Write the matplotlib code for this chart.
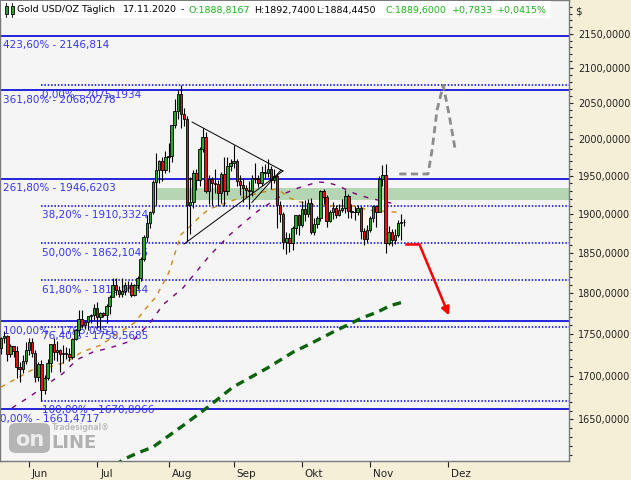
import matplotlib
matplotlib.use("Agg")
import matplotlib.pyplot as plt
from matplotlib.patches import Rectangle, FancyBboxPatch
from matplotlib.ticker import FixedLocator, NullFormatter
import matplotlib.transforms as mtransforms
import numpy as np
import pandas as pd

W, H = 631, 480

# Gold USD/OZ daily candles, 19.05.2020 - 17.11.2020
opens = [1733, 1745, 1747, 1726, 1735, 1729, 1710, 1708, 1718,
         1730, 1740, 1727, 1699, 1714, 1684, 1698, 1715, 1737, 1728, 1730, 1726, 1727, 1726, 1722,
         1743, 1754, 1768, 1761, 1764, 1771, 1772,
         1781, 1770, 1775, 1773, 1784, 1795, 1809, 1803, 1798, 1802, 1809, 1810, 1797, 1810, 1818,
         1842, 1870, 1888, 1902, 1942, 1958, 1970, 1958,
         1975, 1977, 2019, 2039, 2063, 2035, 2028, 1911, 1915, 1954, 1944, 1986, 2003, 1930, 1946,
         1940, 1939, 1928, 1953, 1930, 1964,
         1968, 1970, 1943, 1938, 1934, 1931, 1930, 1947, 1946, 1941, 1956, 1954, 1960, 1944, 1950,
         1912, 1900, 1864, 1869, 1862, 1881, 1898,
         1886, 1906, 1900, 1914, 1877, 1887, 1894, 1930, 1922, 1891, 1902, 1908, 1899, 1905, 1908,
         1924, 1904, 1902, 1903, 1908, 1878, 1867,
         1879, 1894, 1910, 1903, 1946, 1951, 1862, 1877, 1866, 1873, 1888, 1888.8167]
highs = [1746, 1753, 1748, 1737, 1735, 1735, 1716, 1725, 1740,
         1745, 1745, 1730, 1716, 1719, 1701, 1720, 1738, 1745, 1741, 1732, 1736, 1734, 1733, 1745,
         1756, 1779, 1779, 1767, 1771, 1774, 1786,
         1789, 1776, 1776, 1786, 1797, 1818, 1818, 1808, 1818, 1813, 1815, 1813, 1811, 1821, 1844,
         1872, 1898, 1904, 1945, 1981, 1971, 1975, 1984,
         1994, 2020, 2056, 2069, 2075, 2043, 2032, 1949, 1958, 1959, 1989, 2015, 2010, 1951, 1949,
         1960, 1944, 1955, 1976, 1976, 1973,
         1992, 1973, 1952, 1946, 1938, 1943, 1952, 1967, 1951, 1963, 1966, 1973, 1963, 1960, 1953,
         1917, 1903, 1876, 1875, 1884, 1898, 1900,
         1917, 1918, 1920, 1921, 1894, 1897, 1932, 1933, 1925, 1905, 1915, 1912, 1913, 1920, 1931,
         1926, 1913, 1910, 1911, 1910, 1882, 1886,
         1897, 1911, 1912, 1950, 1965, 1966, 1884, 1880, 1880, 1892, 1900, 1892.74]
lows = [1726, 1739, 1717, 1722, 1722, 1698, 1693, 1703, 1714,
        1724, 1722, 1693, 1694, 1671, 1679, 1695, 1705, 1719, 1717, 1704, 1715, 1720, 1718, 1720,
        1742, 1747, 1757, 1756, 1754, 1763, 1767,
        1757, 1756, 1770, 1763, 1774, 1794, 1797, 1795, 1795, 1797, 1801, 1795, 1796, 1805, 1815,
        1840, 1864, 1882, 1900, 1912, 1940, 1943, 1954,
        1955, 1969, 2015, 2028, 2015, 2018, 1863, 1874, 1907, 1932, 1936, 1983, 1927, 1913, 1911,
        1928, 1910, 1914, 1910, 1925, 1957,
        1961, 1936, 1925, 1916, 1922, 1906, 1924, 1940, 1935, 1937, 1947, 1948, 1933, 1940, 1882,
        1890, 1855, 1848, 1851, 1853, 1874, 1873,
        1883, 1891, 1896, 1874, 1873, 1882, 1891, 1913, 1883, 1889, 1893, 1894, 1897, 1902, 1901,
        1895, 1895, 1892, 1899, 1867, 1860, 1864,
        1877, 1889, 1883, 1903, 1936, 1850, 1860, 1858, 1861, 1870, 1866, 1884.445]
closes = [1745, 1747, 1726, 1735, 1729, 1710, 1708, 1718, 1730,
          1740, 1727, 1699, 1714, 1684, 1698, 1715, 1737, 1728, 1730, 1726, 1727, 1726, 1722, 1743,
          1754, 1768, 1761, 1764, 1771, 1772, 1781,
          1770, 1775, 1773, 1784, 1795, 1809, 1803, 1798, 1802, 1809, 1810, 1797, 1810, 1818, 1842,
          1870, 1888, 1902, 1942, 1958, 1970, 1958, 1975,
          1977, 2019, 2039, 2063, 2035, 2028, 1911, 1915, 1954, 1944, 1986, 2003, 1930, 1946, 1940,
          1939, 1928, 1953, 1930, 1964, 1968,
          1970, 1943, 1938, 1934, 1931, 1930, 1947, 1946, 1941, 1956, 1954, 1960, 1944, 1950, 1912,
          1900, 1864, 1869, 1862, 1881, 1898, 1886,
          1906, 1900, 1914, 1877, 1887, 1894, 1930, 1922, 1891, 1902, 1908, 1899, 1905, 1908, 1924,
          1904, 1902, 1903, 1908, 1878, 1867, 1879,
          1894, 1910, 1903, 1946, 1951, 1862, 1877, 1866, 1873, 1888, 1889, 1889.6]

dates = pd.bdate_range("2020-05-19", "2020-11-17")
month_names = {6: "Jun", 7: "Jul", 8: "Aug", 9: "Sep", 10: "Okt", 11: "Nov", 12: "Dez"}

# moving averages (bar, price)
ma_orange_x = [0, 4, 10, 15, 21, 26, 32, 36, 43, 47, 50, 54, 58, 61, 64, 67, 71, 75, 79, 85,
               89, 93, 96, 101, 108, 115, 118, 128]
ma_orange_y = [1687, 1695, 1707, 1710, 1716, 1728, 1736, 1746, 1763, 1782, 1795, 1824, 1873,
               1884, 1896, 1906, 1912, 1918, 1923, 1929, 1933, 1921, 1916, 1912, 1910, 1910,
               1905, 1902]
ma_purple_x = [3.5, 9.3, 13.5, 20, 24.5, 29.6, 35.1, 42.6, 48, 52.2, 58.7, 67.4, 70.6, 73.8,
               79.6, 82.9, 91.6, 95.8, 99, 102.2, 105.5, 108.7, 112.2, 115.1, 118.4, 128]
ma_purple_y = [1663, 1676, 1687, 1703, 1719, 1728, 1733, 1742, 1763, 1785, 1806, 1847, 1860,
               1873, 1893, 1904, 1927, 1934, 1938, 1942, 1941, 1937, 1930, 1925, 1921, 1912]
ma_green_x = [36.7, 39.3, 43.8, 49, 58.7, 66.7, 74.8, 85.8, 94.2, 98.7, 101.9, 107.1, 112.6,
              116.4, 121.3, 125.5, 129.3]
ma_green_y = [1598, 1605, 1612, 1619, 1643, 1664, 1687, 1709, 1728, 1736, 1742, 1752, 1762,
              1769, 1776, 1784, 1788]

# fibonacci extension (solid) and retracement (dotted)
ext_prices = [2146.814, 2068.0278, 1946.6203, 1765.0951, 1661.4717]
ext_labels = ["423,60% - 2146,814", "361,80% - 2068,0278", "261,80% - 1946,6203",
              "100,00% - 1765,0951", "0,00% - 1661,4717"]
ret_prices = [2075.1934, 1910.3324, 1862.1046, 1815.0944, 1758.5685, 1670.8966]
ret_labels = ["0,00% - 2075,1934", "38,20% - 1910,3324", "50,00% - 1862,1046",
              "61,80% - 1815,0944", "76,40% - 1758,5685", "100,00% - 1670,8966"]
ret_start = 13

zone_low, zone_high, zone_start = 1918.2, 1934.0, 50

# triangle and projections
tri_upper = ([61.6, 90.9], [2023.6, 1956.7])
tri_lower = ([59.0, 90.9], [1861.1, 1956.7])
tri_inner = ([80.9, 90.3], [1915.0, 1958.0])
proj_up_x = [128.4, 137.7, 139.0, 140.6, 142.6, 144.5, 146.4]
proj_up_y = [1952.7, 1952.7, 1985.1, 2040.4, 2075.2, 2033.5, 1987.1]
proj_down_x = [130.6, 134.8, 144.8]
proj_down_y = [1861.7, 1861.7, 1768.9]

green = "#2aa52a"
red = "#e81010"
blue = "#0000d8"
lblue = "#3535f5"

fig = plt.figure(figsize=(W / 100, H / 100), dpi=100)
fig.patch.set_facecolor("#f6efd8")
ax = fig.add_axes([0, 19 / H, 568.5 / W, 461 / H])
ax.set_facecolor("#f5f5f5")
ax.set_yscale("log")
ax.set_xlim(-0.355, 183.0)
ax.set_ylim(1603.5, 2200.4)

# zone
ax.add_patch(Rectangle((zone_start, zone_low), 200, zone_high - zone_low,
                       facecolor="#b5d6b2", edgecolor="none", zorder=1))

for p in ext_prices:
    ax.axhline(p, color=blue, lw=1.2, zorder=2)
for p in ret_prices:
    ax.hlines(p, ret_start, 200, color=blue, lw=1.1, linestyles=(0, (1, 1.2)), zorder=2)

for p, s in zip(ext_prices, ext_labels):
    xpos = -0.35 if s.startswith("0,00") else 0.6
    ax.annotate(s, (xpos, p), xytext=(0, -6.8), textcoords="offset points",
                fontsize=7.5, color=lblue, va="center", ha="left", zorder=2.5)
for p, s in zip(ret_prices, ret_labels):
    ax.annotate(s, (ret_start + 0.2, p), xytext=(0, -6.8), textcoords="offset points",
                fontsize=7.5, color=lblue, va="center", ha="left", zorder=2.5)

# moving averages
ax.plot(ma_orange_x, ma_orange_y, color="#cc8a10", lw=1, dashes=(3.5, 4), zorder=3)
ax.plot(ma_purple_x, ma_purple_y, color="#800080", lw=1, dashes=(3.5, 5), zorder=3)
ax.plot(ma_green_x, ma_green_y, color="#0b640b", lw=2.4, dashes=(2.6, 1.8), zorder=3)

# candles
for i, (o, h, l, c) in enumerate(zip(opens, highs, lows, closes)):
    ax.vlines(i, l, h, color="k", lw=0.8, zorder=4)
    col = green if c >= o else red
    ax.add_patch(Rectangle((i - 0.4, min(o, c)), 0.8, max(abs(c - o), 0.6),
                           facecolor=col, edgecolor="k", lw=0.6, zorder=5))

# triangle
for xs, ys in (tri_upper, tri_lower, tri_inner):
    ax.plot(xs, ys, color="k", lw=0.7, zorder=6)

# projections
ax.plot(proj_up_x, proj_up_y, color="#8c8c8c", lw=2, dashes=(2.6, 1.6), zorder=6)
ax.plot(proj_down_x[:2], proj_down_y[:2], color="#ff0000", lw=1.8, zorder=6)
ax.annotate("", xy=(proj_down_x[2], proj_down_y[2]), xytext=(proj_down_x[1], proj_down_y[1]),
            arrowprops=dict(arrowstyle="-|>", color="#ff0000", lw=1.8, mutation_scale=12),
            zorder=6)

# y axis
ax.yaxis.tick_right()
major = list(range(1650, 2151, 50))
minor = [v for v in range(1610, 2200, 10) if v % 50]
ax.yaxis.set_major_locator(FixedLocator(major))
ax.yaxis.set_minor_locator(FixedLocator(minor))
ax.yaxis.set_minor_formatter(NullFormatter())
ax.set_yticklabels([f"{v:.4f}".replace(".", ",") for v in major])
ax.tick_params(axis="y", which="major", length=3, width=0.8, pad=4, labelsize=7, colors="#222222")
ax.tick_params(axis="y", which="minor", length=2, width=0.8, colors="#222222")

# x axis
pos, labs = [], []
for i in range(1, len(dates)):
    if dates[i].month != dates[i - 1].month:
        pos.append(i)
        labs.append(month_names[dates[i].month])
pos.append(len(dates) - 1 + (pd.Timestamp("2020-12-01") - dates[-1]).days)
labs.append("Dez")
ax.set_xticks(pos)
ax.set_xticklabels(labs)
ax.xaxis.set_minor_locator(FixedLocator([]))
ax.tick_params(axis="x", length=4, width=0.8, pad=2, labelsize=7.5, colors="#222222")
offset = mtransforms.ScaledTranslation(0.03, 0, fig.dpi_scale_trans)
for t in ax.get_xticklabels():
    t.set_horizontalalignment("left")
    t.set_transform(t.get_transform() + offset)

for sp in ax.spines.values():
    sp.set_color("#7a7a7a")
    sp.set_linewidth(1)


def fbox(x0, y0, x1, y1):
    return (x0 / W, 1 - y1 / H), (x1 - x0) / W, (y1 - y0) / H


# title bar
xy, w, h = fbox(1, 1, 551, 18)
fig.add_artist(Rectangle(xy, w, h, transform=fig.transFigure, facecolor="white",
                         edgecolor="none", zorder=10))
for x0, x1, col in ((4.5, 7.5, green), (10.5, 13.5, green)):
    xy, w, h = fbox(x0, 6, x1, 14)
    fig.add_artist(Rectangle(xy, w, h, transform=fig.transFigure, facecolor=col,
                             edgecolor="k", lw=0.6, zorder=11))
    fig.add_artist(plt.Line2D([(x0 + x1) / 2 / W] * 2, [1 - 3 / H, 1 - 17 / H],
                              transform=fig.transFigure, color="k", lw=0.6, zorder=10.5))

tgreen = "#1fb01f"
title_parts = [(17, "Gold USD/OZ Täglich", "k"), (123, "17.11.2020", "k"), (181, "-", "k"),
               (188, "O:1888,8167", tgreen), (254, "H:1892,7400", "k"),
               (316, "L:1884,4450", "k"), (385, "C:1889,6000", tgreen),
               (452, "+0,7833", tgreen), (497, "+0,0415%", tgreen)]
for x0, s, col in title_parts:
    fig.text(x0 / W, 1 - 10 / H, s, fontsize=6.8, color=col, ha="left", va="center", zorder=12)

fig.text(575 / W, 1 - 11 / H, "$", fontsize=7.5, color="#222222", ha="left", va="center")

# watermark
xy, w, h = fbox(9, 423, 50, 453)
fig.add_artist(FancyBboxPatch(xy, w, h, boxstyle="round,pad=0,rounding_size=0.012",
                              transform=fig.transFigure, facecolor="#a0a0a0",
                              edgecolor="none", alpha=0.75, zorder=10))
fig.text(30 / W, 1 - 440 / H, "on", fontsize=15, fontweight="bold", color="#ececec",
         ha="center", va="center", zorder=11)
fig.text(51 / W, 1 - 443 / H, "LINE", fontsize=13, fontweight="bold", color="#b0b0b0",
         ha="left", va="center", zorder=11)
fig.text(52 / W, 1 - 428 / H, "Tradesignal®", fontsize=5.5, fontweight="bold", color="#bdbdbd",
         ha="left", va="center", zorder=11)

fig.savefig("out.png", dpi=100, facecolor=fig.get_facecolor())
